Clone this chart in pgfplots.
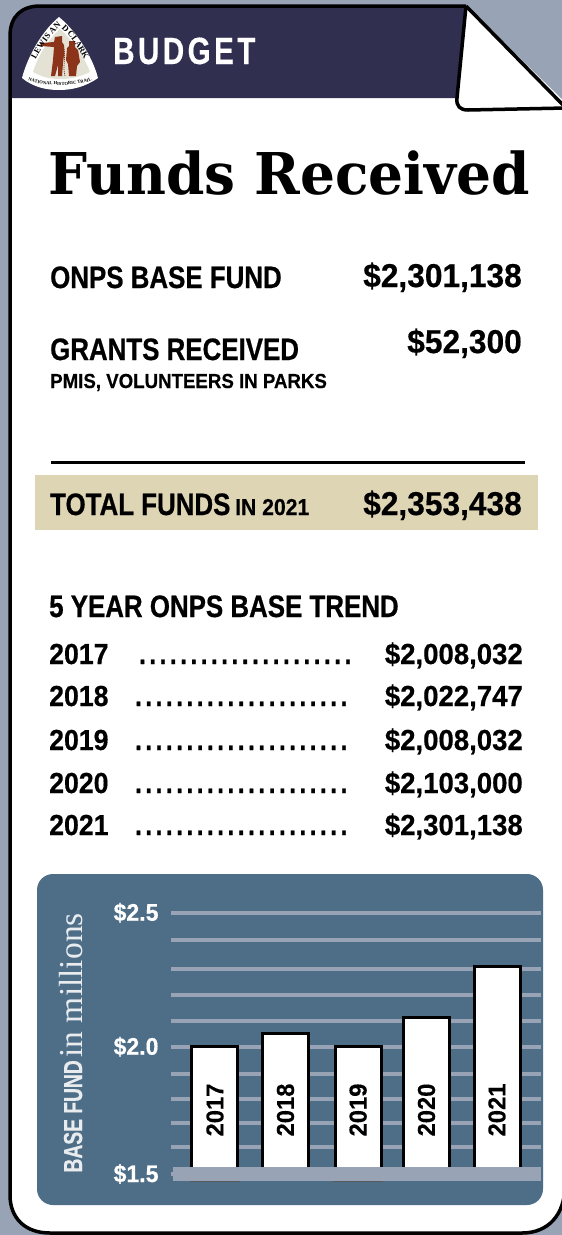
\documentclass[border=0pt]{standalone}
\usepackage{fontspec}
\usepackage{pgfplots}
\pgfplotsset{compat=1.18}
\usetikzlibrary{decorations.text}

\setmainfont{Liberation Sans}
\newfontfamily\cond{Liberation Sans}[UprightFont=* Bold,FakeStretch=0.835,FakeBold=0.6]
\newfontfamily\midf{Liberation Sans}[UprightFont=* Bold,FakeStretch=0.92,FakeBold=0.4]
\newfontfamily\narrow{Liberation Sans}[UprightFont=* Bold,FakeStretch=0.74,FakeBold=0.5]
\newfontfamily\numf{Liberation Sans}[UprightFont=* Bold,FakeStretch=0.96,FakeBold=0.5]
\newfontfamily\listf{Liberation Sans}[UprightFont=* Bold,FakeStretch=0.95,FakeBold=0.5]
\newfontfamily\barf{Liberation Sans}[UprightFont=* Bold,FakeStretch=0.97,FakeBold=0.3]
\newfontfamily\budgetf{Liberation Sans}[UprightFont=* Bold,FakeStretch=0.78,LetterSpace=9,FakeBold=0.3]
\newfontfamily\titlef{DejaVu Serif}[UprightFont=* Bold,FakeStretch=0.954]
\newfontfamily\seriff{Liberation Serif}
\newfontfamily\logof{Liberation Serif}[UprightFont=* Bold]
\newcommand{\fs}[1]{\fontsize{#1}{#1}\selectfont}

\definecolor{bggrey}{HTML}{98A4B6}
\definecolor{navy}{HTML}{312F50}
\definecolor{tan}{HTML}{DED5B5}
\definecolor{panel}{HTML}{4E6E88}
\definecolor{logobrown}{HTML}{8B3419}
\definecolor{logobeige}{HTML}{E4E2D4}
\definecolor{soft}{HTML}{E9ECEF}

\tikzset{
  lft/.style={inner sep=0pt,anchor=base west},
  rgt/.style={inner sep=0pt,anchor=base east},
}

\begin{document}
\begin{tikzpicture}
\path[use as bounding box] (0pt,0pt) rectangle (562pt,-1235pt);
\begin{scope}[x=1pt,y=-1pt]
  \clip (0,0) rectangle (562,1235);
  \fill[bggrey] (0,0) rectangle (562,1235);
  % page
  \fill[white] (40,6) -- (466,6) -- (570,107) -- (565,1185) .. controls (565,1215) and (548,1233) .. (522,1233) -- (50,1233) .. controls (25,1233) and (10,1218) .. (10,1195) -- (10,36) .. controls (10,16) and (22,6) .. (40,6) -- cycle;
  % header
  \fill[navy] (40,6) -- (466,6) -- (460,98) -- (10,98) -- (10,36) .. controls (10,16) and (22,6) .. (40,6) -- cycle;
  \draw[line width=3.5pt] (466,6) -- (40,6) .. controls (22,6) and (10,16) .. (10,36) -- (10,1195) .. controls (10,1218) and (25,1233) .. (50,1233) -- (522,1233) .. controls (548,1233) and (565,1215) .. (565,1185);
  % folded corner
  \fill[white] (466,8) -- (457,98) .. controls (456,106) and (460,110) .. (468,110) -- (566,108) -- cycle;
  \draw[line width=3.5pt,line join=round] (466,6) -- (457,98) .. controls (456,106) and (460,110) .. (468,110) -- (566,108);
  \draw[line width=3.5pt] (466,6) -- (566,108);
  % trail shield
  \fill[white] (59,17) .. controls (75,30) and (92,55) .. (98,78) .. controls (85,87) and (72,90) .. (59,90) .. controls (46,90) and (33,87) .. (22,78) .. controls (28,55) and (43,30) .. (59,17) -- cycle;
  \fill[logobeige] (60,29) .. controls (72,40) and (84,56) .. (90,72) .. controls (80,77) and (70,79) .. (60,79) .. controls (50,79) and (42,77) .. (33,72) .. controls (38,56) and (48,40) .. (60,29) -- cycle;
  \fill[logobrown] (41,43) -- (54,42) -- (55,37) -- (62,36) -- (62,42) -- (64,45) -- (64,55) -- (63,63) -- (62,76) -- (58,76) -- (58,65) -- (55,76) -- (51,76) -- (53,60) -- (54,47) -- (41,46) -- cycle;
  \fill[logobrown] (69,41) -- (75,41) -- (75,47) -- (78,50) -- (80,62) -- (77,66) -- (76,76) -- (69,76) -- (68,64) -- (66,60) -- (67,48) -- (69,46) -- cycle;
  \draw[logobrown,line width=0.7pt,dash pattern=on 1.2pt off 0.8pt] (63,45) .. controls (67,55) and (62,65) .. (65,76);
  \path[decorate,decoration={text along path,text align=center,text={|\logof\fs{8.5}|LEWIS AND CLARK}}]
    (29,74) .. controls (36,56) and (47,38) .. (60,27) .. controls (73,38) and (84,56) .. (91,74);
  \path[decorate,decoration={text along path,text align=center,text={|\logof\fs{4.6}|NATIONAL HISTORIC TRAIL}}]
    (29,81) .. controls (45,86.5) and (75,86.5) .. (91,81);
  \node[lft,text=white] at (113,64) {\budgetf\fs{38}BUDGET};
  % title
  \node[lft] at (48,194) {\titlef\fs{57.6}Funds Received};
  % funds
  \node[lft] at (50,288) {\cond\fs{31}ONPS BASE FUND};
  \node[rgt] at (522,287) {\numf\fs{33}\$2,301,138};
  \node[lft] at (50,360) {\cond\fs{31}GRANTS RECEIVED};
  \node[rgt] at (522,353) {\numf\fs{33}\$52,300};
  \node[lft] at (50,388) {\midf\fs{20.3}PMIS, VOLUNTEERS IN PARKS};
  \fill (51,461) rectangle (525,464);
  \fill[tan] (35,475) rectangle (538,530);
  \node[lft] at (50,515) {\cond\fs{31}TOTAL FUNDS};
  \node[lft] at (235,515) {\midf\fs{23}IN 2021};
  \node[rgt] at (522,515) {\numf\fs{33}\$2,353,438};
  % trend list
  \node[lft] at (49,617) {\cond\fs{31}5 YEAR ONPS BASE TREND};
  \foreach \yr/\val/\yy/\xa in {2017/{2,008,032}/664/137,2018/{2,022,747}/706/133,2019/{2,008,032}/750/133,2020/{2,103,000}/793/133,2021/{2,301,138}/835/133} {
    \node[lft] at (49,\yy) {\midf\fs{29}\yr};
    \node[lft] at (\xa,\yy) {\hbox to 216pt{\cond\fs{29}\xleaders\hbox to 10pt{\hss.\hss}\hfill}};
    \node[rgt] at (523,\yy) {\listf\fs{29}\$\val};
  }
  % chart panel
  \fill[panel,rounded corners=16pt] (37,874) rectangle (543,1205);
\end{scope}

\begin{axis}[
  at={(171pt,-1183.38pt)}, anchor=south west,
  scale only axis, width=370pt, height=276.04pt,
  xmin=2016.376, xmax=2021.624,
  ymin=1.49, ymax=2.52,
  axis line style={draw=none},
  tick style={draw=none},
  xtick=\empty,
  ytick={1.525,2,2.5},
  yticklabels={\$1.5,\$2.0,\$2.5},
  yticklabel style={text=white,font=\numf\fs{24},xshift=-9pt},
  minor ytick={1.625,1.715,1.805,1.9,2.095,2.194,2.289,2.4},
  major tick length=0pt, minor tick length=0pt,
  ymajorgrids=true, yminorgrids=true,
  every axis grid/.style={line width=4pt,color=bggrey},
  every major grid/.style={line width=4pt,color=bggrey},
  every minor grid/.style={line width=4pt,color=bggrey},
  every axis y label/.append style={at={(axis description cs:-0.2405,0.0267)},anchor=base west,text=soft},
  ylabel={{\narrow\fs{26}BASE FUND} {\seriff\fs{33.5}in millions}},
]
  \addplot[ybar,bar width=46pt,draw=black,line width=3pt,fill=white] coordinates {
    (2017,2.00)(2018,2.05)(2019.03,2.00)(2020,2.11)(2021,2.30)
  };
  % baseline band over the foot of the bars
  \addplot[fill=bggrey,draw=none] coordinates {(2016.404,1.5)(2021.624,1.5)(2021.624,1.55)(2016.404,1.55)} -- cycle;
\end{axis}
% hide the bar feet below the band
\fill[panel] (165pt,-1180.7pt) rectangle (542pt,-1185pt);

% same frame again, so the year labels lie on top of the bars
\begin{axis}[
  at={(171pt,-1183.38pt)}, anchor=south west,
  scale only axis, width=370pt, height=276.04pt,
  xmin=2016.376, xmax=2021.624,
  ymin=1.49, ymax=2.52,
  axis line style={draw=none},
  tick style={draw=none},
  major tick length=0pt,
  ytick=\empty,
  xtick={2017,2018,2019.03,2020,2021},
  xticklabels={2017,2018,2019,2020,2021},
  xticklabel style={rotate=90,anchor=center,xshift=73.4pt,font=\barf\fs{24.5}},
]
  \addplot[draw=black!65,line width=0.9pt] coordinates {(2016.645,1.4985)(2017.355,1.4985)};
  \addplot[draw=black!65,line width=0.9pt] coordinates {(2018.675,1.4985)(2019.385,1.4985)};
\end{axis}
\end{tikzpicture}
\end{document}
